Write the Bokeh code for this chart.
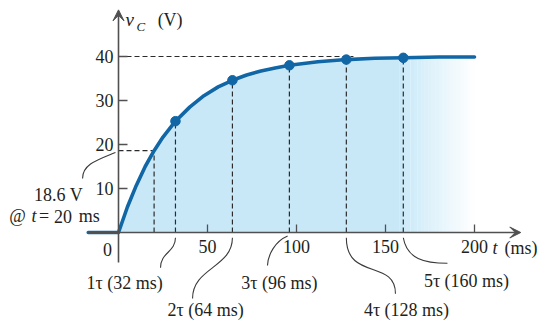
import numpy as np
from bokeh.plotting import figure
from bokeh.models import Range1d, FixedTicker, Arrow, VeeHead
from bokeh.core.properties import value
from bokeh.embed import file_html
from bokeh.resources import INLINE

# ---- data ----
curve_t = [-17, 0, 5, 10, 15, 20, 25, 32, 40, 48, 56, 64, 72, 80, 88, 96, 112, 128, 144, 160, 180, 200]
curve_v = [0, 0, 5.8, 10.7, 15.0, 18.6, 21.7, 25.3, 28.5, 31.1, 33.1, 34.6, 35.8, 36.7, 37.4, 38.0, 38.8, 39.3, 39.6, 39.7, 39.9, 39.9]
tau_t = [32, 64, 96, 128, 160]
tau_v = [25.3, 34.6, 38.0, 39.3, 39.7]
tau_labels = ["1\u03c4 (32 ms)", "2\u03c4 (64 ms)", "3\u03c4 (96 ms)", "4\u03c4 (128 ms)", "5\u03c4 (160 ms)"]
mark_t = 20
mark_v = 18.6
final_v = 40
x_ticks = [50, 100, 150, 200]
y_ticks = [10, 20, 30, 40]

SERIF = value("Liberation Serif")
TXT = "#231f20"
BLUE = "#1166a6"
FILL = "#c8e8f8"
AX = "#505050"
FS = "18px"

W, H = 549, 322
PX = 1.78   # pixels per ms
PY = 4.4    # pixels per volt
X0, Y0 = 118, 232  # pixel position of the origin
p = figure(width=W, height=H, output_backend="svg", toolbar_location=None,
           x_range=Range1d(-X0 / PX, (W - X0) / PX),
           y_range=Range1d(-(H - Y0) / PY, Y0 / PY),
           min_border=0, min_border_left=0, min_border_right=0,
           min_border_top=0, min_border_bottom=0)
p.outline_line_color = None
p.grid.visible = False
p.background_fill_color = "white"
p.border_fill_color = "white"

# ---- fill under curve with fade ----
ct = np.array(curve_t, dtype=float)
cv = np.array(curve_v, dtype=float)
fade_start, fade_end = 158.0, 200.0
m = ct <= fade_start
ft = np.append(ct[m], fade_start)
fv = np.append(cv[m], np.interp(fade_start, ct, cv))
p.varea(x=ft, y1=0, y2=fv, fill_color=FILL, fill_alpha=1.0)
edges = np.linspace(fade_start, fade_end, 22)
for i in range(len(edges) - 1):
    a, b = edges[i], edges[i + 1]
    alpha = 1.0 - (i + 0.5) / (len(edges) - 1)
    p.varea(x=[a, b], y1=0, y2=[np.interp(a, ct, cv), np.interp(b, ct, cv)],
            fill_color=FILL, fill_alpha=alpha)

# ---- axes (real axes at the origin) ----
for ax in (p.xaxis[0], p.yaxis[0]):
    ax.fixed_location = 0
    ax.axis_line_color = None
    ax.major_tick_out = 0
    ax.minor_tick_line_color = None
    ax.major_tick_line_color = AX
    ax.major_tick_line_width = 1.3
    ax.major_label_text_font = "Liberation Serif"
    ax.major_label_text_font_size = FS
    ax.major_label_text_color = TXT
p.xaxis.ticker = FixedTicker(ticks=x_ticks)
p.yaxis.ticker = FixedTicker(ticks=y_ticks)
p.xaxis.major_tick_in = 8
p.yaxis.major_tick_in = 9
p.xaxis.major_label_standoff = 7
p.yaxis.major_label_standoff = 5

head = dict(size=11, fill_color=AX, line_color=AX, line_width=1)
p.add_layout(Arrow(x_start=-17, y_start=0, x_end=226, y_end=0,
                   line_color=AX, line_width=1.6, end=VeeHead(**head)))
p.add_layout(Arrow(x_start=0, y_start=-6.8, x_end=0, y_end=50.6,
                   line_color=AX, line_width=1.6, end=VeeHead(**head)))

# ---- dashed guides ----
DASH = dict(line_color="#2b2b2b", line_width=1.2, line_dash="5 3")
p.segment(x0=tau_t + [mark_t], y0=[0] * 6, x1=tau_t + [mark_t], y1=tau_v + [mark_v], **DASH)
p.segment(x0=[0, 0], y0=[mark_v, final_v], x1=[mark_t, 132], y1=[mark_v, final_v], **DASH)

# ---- curve & points ----
p.line(curve_t, curve_v, line_color=BLUE, line_width=3.6, line_join="round", line_cap="round")
p.scatter(tau_t, tau_v, size=9.5, fill_color=BLUE, line_color=BLUE)

# ---- leader curves ----
LEAD = dict(line_color="#3a3a3a", line_width=1.1)
p.bezier(x0=[32, 64, 95, 128, 160], y0=[-1.2, -1.2, -0.8, -1.2, -1.2],
         x1=[23.6, 41.6, 83.7, 155.6, 184.8], y1=[-8.0, -15.0, -7.5, -13.9, -7.0],
         cx0=[32, 64, 88, 128, 162], cy0=[-4.5, -8.0, -2.0, -11.0, -6.0],
         cx1=[23.6, 41.6, 84, 155.6, 172], cy1=[-4.5, -8.0, -5.0, -6.0, -7.0], **LEAD)
p.bezier(x0=[-20.2], y0=[12.3], x1=[-1.7], y1=[18.2],
         cx0=[-20.2], cy0=[15.5], cx1=[-12], cy1=[16.5], **LEAD)

# ---- texts ----
TX = dict(text_font=SERIF, text_font_size=FS, text_color=TXT)
p.text(x=[3.4, 48.9, 90.4, 161.8, 195.5], y=[-11.4, -17.6, -11.4, -17.6, -11.1],
       text=tau_labels, text_align="center", text_baseline="middle", **TX)
p.text(x=[-33.7], y=[8.6], text=["18.6 V"], text_align="center", text_baseline="middle", **TX)
p.text(x=[-56.7], y=[3.7], text=["@"], text_align="center", text_baseline="middle", **TX)
p.text(x=[-44.6, -36.3, -22.3], y=[3.7] * 3, text=["=", "20", "ms"],
       text_align="left", text_baseline="middle", **TX)
p.text(x=[-48.9], y=[3.7], text=["t"], text_align="left", text_baseline="middle",
       text_font_style="italic", **TX)
p.text(x=[-6.2], y=[-3.8], text=["0"], text_align="center", text_baseline="middle", **TX)
p.text(x=[210.1], y=[-3.6], text=["t"], text_align="left", text_baseline="middle",
       text_font_style="italic", **TX)
p.text(x=[226.1], y=[-3.6], text=["(ms)"], text_align="center", text_baseline="middle", **TX)
p.text(x=[3.9], y=[48.4], text=["v"], text_align="left", text_baseline="middle",
       text_font_style="italic", text_font=SERIF, text_font_size="19px", text_color=TXT)
p.text(x=[10.1], y=[46.8], text=["C"], text_align="left", text_baseline="middle",
       text_font_style="italic", text_font=SERIF, text_font_size="13px", text_color=TXT)
p.text(x=[29.0], y=[48.2], text=["(V)"], text_align="center", text_baseline="middle", **TX)

open("out.html", "w").write(file_html(p, INLINE))
